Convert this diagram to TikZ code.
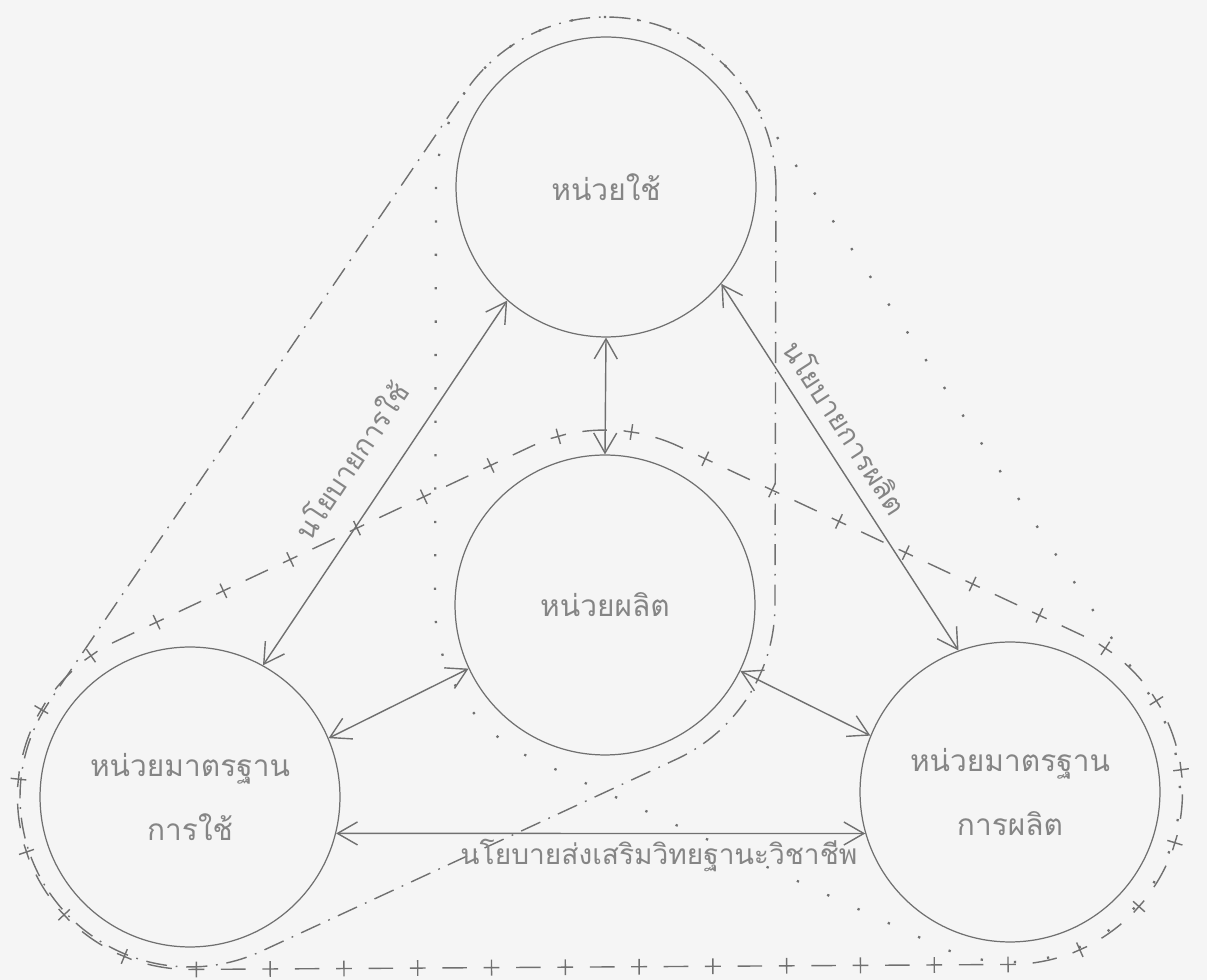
\documentclass[tikz,border=0pt]{standalone}
\usepackage{fontspec}
\newfontfamily\thaifont[Script=Thai]{Loma}
\usetikzlibrary{arrows.meta,decorations.markings,calc}
\definecolor{cInk}{HTML}{707070}
\definecolor{cText}{HTML}{858585}
\definecolor{cPaper}{HTML}{f5f5f5}
\tikzset{
  unit/.style={circle,draw=cInk,line width=.7pt,minimum size=6cm,inner sep=0pt,
               align=center,text=cText,font=\thaifont\fontsize{17}{36}\selectfont},
  flow/.style={{Straight Barb[length=4mm,width=4.6mm]}-{Straight Barb[length=4mm,width=4.6mm]},
               line width=.8pt,cInk},
  policy/.style={text=cText,font=\thaifont\fontsize{16}{20}\selectfont,inner sep=3pt},
  usebelt/.style={cInk,line width=.8pt,dash pattern=on 12pt off 5pt on 1pt off 5pt},
  makebelt/.style={cInk,line width=1.3pt,dash pattern=on 1.3pt off 17.7pt},
  crossbelt/.style={cInk,line width=.8pt,dash pattern=on 14pt off 28pt,
    postaction={decorate,decoration={markings,
      mark=between positions 28pt and -5pt step 42pt with
        {\draw[solid,line width=.8pt] (-4.5pt,0)--(4.5pt,0) (0,-4.5pt)--(0,4.5pt);}}}},
}

\begin{document}
\begin{tikzpicture}[x=0.02cm,y=0.02cm]
  \fill[cPaper] (0,0) rectangle (1207,980);
  \useasboundingbox (0,0) rectangle (1207,980);

  \node[unit] (use) at (606,793) {หน่วยใช้};
  \node[unit] (make) at (605,375) {หน่วยผลิต};
  \node[unit] (stduse) at (190,183) {หน่วยมาตรฐาน\\การใช้};
  \node[unit] (stdmake) at (1010,188) {หน่วยมาตรฐาน\\การผลิต};

  % belts round the three triangles
  \draw[usebelt] ($(use)+(0:3.4cm)$) arc[start angle=0,end angle=145.7,radius=3.4cm]
    -- ($(stduse)+(145.7:3.4cm)$) arc[start angle=145.7,end angle=294.8,radius=3.4cm]
    -- ($(make)+(294.8:3.4cm)$) arc[start angle=294.8,end angle=360,radius=3.4cm] -- cycle;
  \draw[makebelt] ($(use)+(33.7:3.4cm)$) arc[start angle=33.7,end angle=180,radius=3.4cm]
    -- ($(make)+(180:3.4cm)$) arc[start angle=180,end angle=245.2,radius=3.4cm]
    -- ($(stdmake)+(245.2:3.4cm)$) arc[start angle=245.2,end angle=393.7,radius=3.4cm] -- cycle;
  \draw[crossbelt] ($(make)+(65.2:3.5cm)$) arc[start angle=65.2,end angle=114.8,radius=3.5cm]
    -- ($(stduse)+(114.8:3.45cm)$) arc[start angle=114.8,end angle=270,radius=3.45cm]
    -- ($(stdmake)+(270:3.45cm)$) arc[start angle=270,end angle=425.2,radius=3.45cm] -- cycle;

  \draw[flow] (stduse.61) -- node[policy,sloped,above=13pt,pos=.5]{นโยบายการใช้} (use.-131);
  \draw[flow] (use.-40) -- node[policy,sloped,above=5pt,pos=.43]{นโยบายการผลิต} (stdmake.110);
  \draw[flow] (use.south) -- (make.north);
  \draw[flow] (make.-155) -- (stduse.23);
  \draw[flow] (make.-26) -- (stdmake.158);
  \draw[flow] (stduse.-14) -- node[policy,below,pos=.61]{นโยบายส่งเสริมวิทยฐานะวิชาชีพ} (stdmake.-164);
\end{tikzpicture}
\end{document}
